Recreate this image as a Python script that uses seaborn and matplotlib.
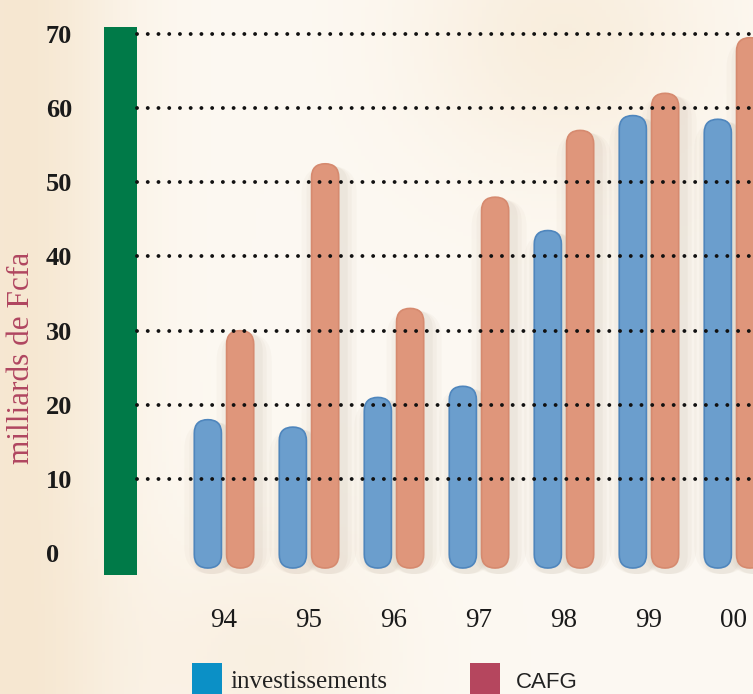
import numpy as np
import pandas as pd
import matplotlib
matplotlib.use("Agg")
import matplotlib.pyplot as plt
import seaborn as sns
from matplotlib.patches import FancyBboxPatch, Rectangle

# --- données ---
annees = ['94', '95', '96', '97', '98', '99', '00']
investissements = [18, 17, 21, 22.5, 43.5, 59, 58.5]
cafg = [30, 52.5, 33, 48, 57, 62, 69.5]
graduations = [0, 10, 20, 30, 40, 50, 60, 70]

df = pd.DataFrame({
    'annee': annees * 2,
    'valeur': investissements + cafg,
    'serie': ['investissements'] * len(annees) + ['CAFG'] * len(annees),
})

sns.set_style("white")
plt.rcParams['font.family'] = ['Liberation Serif', 'DejaVu Serif']

W, H = 753, 694
fig = plt.figure(figsize=(W / 100, H / 100), dpi=100)
fig.patch.set_facecolor('#faf3e6')

# fond crème légèrement nuancé
bg = fig.add_axes([0, 0, 1, 1], zorder=-10)
gx, gy = np.meshgrid(np.linspace(0, 1, 200), np.linspace(0, 1, 200))
warm = (np.exp(-((gx - 0.02) ** 2) / 0.02) * 0.8
        + np.exp(-((gx - 0.75) ** 2 + (gy - 0.05) ** 2) / 0.04) * 0.5
        + np.exp(-((gx - 0.35) ** 2 + (gy - 0.95) ** 2) / 0.03) * 0.4)
warm = np.clip(warm, 0, 1)
c0 = np.array([0.992, 0.976, 0.950])
c1 = np.array([0.960, 0.890, 0.790])
img = c0[None, None, :] * (1 - warm[..., None]) + c1[None, None, :] * warm[..., None]
bg.imshow(img, aspect='auto', extent=[0, 1, 0, 1], origin='upper')
bg.set_axis_off()

ax = fig.add_axes([104 / W, 119 / H, 649 / W, 548 / H])
ax.set_facecolor('none')

palette = {'investissements': '#6b9ecd', 'CAFG': '#df967b'}
sns.barplot(data=df, x='annee', y='valeur', hue='serie', palette=palette,
            width=0.76, gap=0.16, saturation=1, legend=False, ax=ax)

ax.set_xlim(-1.412, 6.224)
ax.set_ylim(-2.94, 70.94)
for s in ax.spines.values():
    s.set_visible(False)

# barres arrondies (pilules) à partir des barres de seaborn
fig.canvas.draw()
bb = ax.get_window_extent()
px_x = bb.width / (ax.get_xlim()[1] - ax.get_xlim()[0])
px_y = bb.height / (ax.get_ylim()[1] - ax.get_ylim()[0])
aspect = px_x / px_y
base = -2.0
edges = {'#6b9ecd': '#4f86bd', '#df967b': '#d68a6f'}
for p in list(ax.patches):
    x, w, h = p.get_x(), p.get_width(), p.get_height()
    fc = matplotlib.colors.to_hex(p.get_facecolor())
    p.remove()
    # ombre douce
    for k, a in [(14, 0.035), (9, 0.045), (5, 0.06)]:
        dx = k / px_x
        sh = FancyBboxPatch((x - dx + 4 / px_x, base - 6 / px_y), w + 2 * dx, h - base + 4 / px_y,
                            boxstyle=f"round,pad=0,rounding_size={w / 2 + dx}",
                            mutation_aspect=aspect, fc='#8c7a5e', ec='none', alpha=a, zorder=1)
        ax.add_patch(sh)
    pill = FancyBboxPatch((x, base), w, h - base,
                          boxstyle=f"round,pad=0,rounding_size={w / 2}",
                          mutation_aspect=aspect, fc=fc, ec=edges.get(fc, fc), lw=1.2, zorder=3)
    ax.add_patch(pill)

# barre verte de l'axe
green_w = 33 / bb.width
ax.add_patch(Rectangle((0, 0), green_w, 1, transform=ax.transAxes,
                       fc='#007a48', ec='none', zorder=4))

# lignes pointillées
for v in graduations[1:]:
    ax.axhline(v, xmin=green_w, xmax=1, color='#111111', lw=2.8,
               linestyle=(0, (0.01, 2.75)), dash_capstyle='round', zorder=5)

ax.set_yticks(graduations)
ax.set_yticklabels([str(v) for v in graduations], fontsize=19, fontweight='bold',
                   color='#1a1a1a', ha='left')
ax.tick_params(axis='y', length=0, pad=42)
ax.tick_params(axis='x', length=0, pad=24, labelsize=19.5, labelcolor='#1a1a1a')
ax.set_xlabel('')
ax.set_ylabel('')

fig.text(22 / W, 1 - 358 / H, 'milliards de Fcfa', rotation=90, ha='center', va='center',
         fontsize=22.5, color='#b04660')

# légende
fig.patches.append(Rectangle((192 / W, 0), 30 / W, 31 / H, transform=fig.transFigure,
                             fc='#0b90c6', ec='none'))
fig.text(230 / W, 6 / H, 'investissements', fontsize=18, color='#222222', va='baseline')
fig.patches.append(Rectangle((470 / W, 0), 30 / W, 31 / H, transform=fig.transFigure,
                             fc='#b5465e', ec='none'))
fig.text(516 / W, 6 / H, 'CAFG', fontsize=16, color='#222222', va='baseline',
         family=['Liberation Sans', 'DejaVu Sans'])

fig.savefig('out.png', dpi=100, facecolor=fig.get_facecolor())
